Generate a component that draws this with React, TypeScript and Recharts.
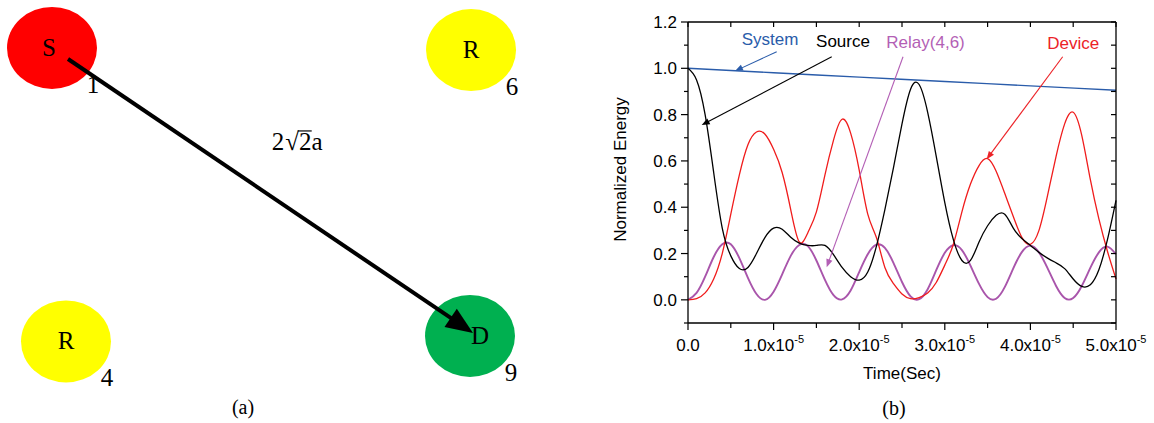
import { LineChart, Line, XAxis, YAxis, ReferenceLine, ReferenceDot, ScatterChart, Scatter } from "recharts";

const sans = "'Liberation Sans', Arial, sans-serif";
const serif = "'Liberation Serif', 'Times New Roman', serif";

// ---- panel (a): node layout, in units of a ----
const nodeX = [0, 2.005, 0.067, 2];
const nodeY = [2, 1.986, -0.038, 0];
const nodeLetter = ["S", "R", "R", "D"];
const nodeNumber = ["1", "6", "4", "9"];
const nodeColor = ["#ff0000", "#ffff00", "#ffff00", "#00b050"];
// S -> D link
const linkX = [0.0766, 2.0144];
const linkY = [1.9236, 0.0208];

// ---- panel (b): time in units of 1e-5 s ----
const time = [
  0, 0.1, 0.2, 0.3, 0.4, 0.5, 0.6, 0.7, 0.8, 0.9,
  1, 1.1, 1.2, 1.3, 1.4, 1.5, 1.6, 1.7, 1.8, 1.9,
  2, 2.1, 2.2, 2.3, 2.4, 2.5, 2.6, 2.7, 2.8, 2.9,
  3, 3.1, 3.2, 3.3, 3.4, 3.5, 3.6, 3.7, 3.8, 3.9,
  4, 4.1, 4.2, 4.3, 4.4, 4.5, 4.6, 4.7, 4.8, 4.9,
  5,
];
const source = [
  1.0, 0.95, 0.8, 0.55, 0.31, 0.19, 0.135, 0.14, 0.2, 0.27,
  0.31, 0.305, 0.27, 0.245, 0.235, 0.235, 0.235, 0.195, 0.14, 0.1,
  0.085, 0.12, 0.23, 0.39, 0.57, 0.76, 0.91, 0.93, 0.81, 0.62,
  0.42, 0.26, 0.17, 0.17, 0.25, 0.32, 0.365, 0.37, 0.31, 0.265,
  0.235, 0.205, 0.18, 0.16, 0.135, 0.09, 0.058, 0.065, 0.13, 0.26,
  0.43,
];
const relay = [
  0, 0.03, 0.1, 0.185, 0.24, 0.24, 0.18, 0.095, 0.025, 0.0,
  0.035, 0.11, 0.19, 0.237, 0.232, 0.17, 0.086, 0.02, 0.002, 0.04,
  0.12, 0.197, 0.238, 0.224, 0.16, 0.077, 0.015, 0.003, 0.046, 0.128,
  0.203, 0.236, 0.215, 0.148, 0.069, 0.012, 0.005, 0.055, 0.136, 0.206,
  0.234, 0.205, 0.137, 0.06, 0.008, 0.008, 0.06, 0.138, 0.205, 0.23,
  0.197,
];
const device = [
  0, 0.005, 0.03, 0.09, 0.2, 0.37, 0.54, 0.67, 0.725, 0.715,
  0.65, 0.55, 0.39, 0.25, 0.29, 0.38, 0.54, 0.69, 0.78, 0.72,
  0.56, 0.37, 0.27, 0.14, 0.07, 0.025, 0.005, 0.01, 0.03, 0.075,
  0.15, 0.24, 0.38, 0.5, 0.58, 0.61, 0.555, 0.46, 0.36, 0.27,
  0.24, 0.3, 0.45, 0.62, 0.76, 0.81, 0.71, 0.52, 0.35, 0.21,
  0.09,
];
const systemTime = [0, 1, 2, 3, 4, 5];
const systemEnergy = [1.0, 0.981, 0.962, 0.943, 0.924, 0.905];

const xTicks = [0, 0.5, 1, 1.5, 2, 2.5, 3, 3.5, 4, 4.5, 5];
const yTicks = [-0.1, 0, 0.1, 0.2, 0.3, 0.4, 0.5, 0.6, 0.7, 0.8, 0.9, 1, 1.1, 1.2];
const X_MIN = 0;
const X_MAX = 5;
const Y_MIN = -0.1;
const Y_MAX = 1.2;

const CHART_W = 594;
const CHART_H = 423;
const MARGIN = { top: 22, right: 38, bottom: 70, left: 68 };
const X_AXIS_H = 30;
const PLOT_H = CHART_H - MARGIN.top - MARGIN.bottom - X_AXIS_H;

const rows = time.map((t, i) => {
  const k = systemTime.indexOf(t);
  return {
    t,
    source: source[i],
    relay: relay[i],
    device: device[i],
    system: k >= 0 ? systemEnergy[k] : null,
  };
});

// annotation labels with their pointer arrows (data coords)
const notes = [
  { text: "System", color: "#2a5caa", tx: 0.958, tv: 1.1, from: [1.036, 1.072], to: [0.549, 0.988] },
  { text: "Source", color: "#000000", tx: 1.811, tv: 1.092, from: [1.679, 1.05], to: [0.16, 0.755] },
  { text: "Relay(4,6)", color: "#b35fb5", tx: 2.775, tv: 1.088, from: [2.512, 1.05], to: [1.62, 0.141] },
  { text: "Device", color: "#ec2227", tx: 4.5, tv: 1.083, from: [4.377, 1.05], to: [3.489, 0.607] },
];

function drawArrow(x1: number, y1: number, x2: number, y2: number, color: string, width: number, head: number, half: number) {
  const dx = x2 - x1;
  const dy = y2 - y1;
  const len = Math.hypot(dx, dy) || 1;
  const ux = dx / len;
  const uy = dy / len;
  const bx = x2 - ux * head;
  const by = y2 - uy * head;
  const pts = `${x2},${y2} ${bx - uy * half},${by + ux * half} ${bx + uy * half},${by - ux * half}`;
  return (
    <g>
      <line x1={x1} y1={y1} x2={bx + ux} y2={by + uy} stroke={color} strokeWidth={width} />
      <polygon points={pts} fill={color} />
    </g>
  );
}

const YTick = ({ x, y, payload }: any) => {
  const v = payload.value;
  const major = Math.round(v * 10) % 2 === 0;
  return (
    <g>
      <line x1={x} y1={y} x2={x - (major ? 7 : 4)} y2={y} stroke="#000" strokeWidth={1.2} />
      {major && v >= 0 && (
        <text x={x - 11} y={y + 6} textAnchor="end" fontSize={17} fontFamily={sans} fill="#000">
          {v.toFixed(1)}
        </text>
      )}
    </g>
  );
};

const XTick = ({ x, y, payload }: any) => {
  const v = payload.value;
  const major = Number.isInteger(v);
  return (
    <g>
      <line x1={x} y1={y} x2={x} y2={y + (major ? 7 : 5)} stroke="#000" strokeWidth={1.2} />
      {major && (
        <text x={x} y={y + 28} textAnchor="middle" fontSize={17} fontFamily={sans} fill="#000">
          {v === 0 ? (
            "0.0"
          ) : (
            <>
              <tspan>{v.toFixed(1) + "x10"}</tspan>
              <tspan dy={-8} fontSize={11}>-5</tspan>
            </>
          )}
        </text>
      )}
    </g>
  );
};

// viewBox of the left axis: its right edge is the plot's left edge
const yCaption = ({ viewBox }: any) => {
  const cx = viewBox.x + viewBox.width - 68;
  const cy = viewBox.y + viewBox.height / 2 - 3;
  return (
    <text x={cx} y={cy} transform={`rotate(-90 ${cx} ${cy})`} textAnchor="middle" dominantBaseline="central" fontSize={17} fontFamily={sans} fill="#000">
      Normalized Energy
    </text>
  );
};

// bottom-axis caption; also closes the box (top and right edges with inward ticks)
const xCaption = ({ viewBox }: any) => {
  const left = viewBox.x;
  const w = viewBox.width;
  const bottom = viewBox.y;
  const top = bottom - PLOT_H;
  const right = left + w;
  const px = (t: number) => left + ((t - X_MIN) / (X_MAX - X_MIN)) * w;
  const py = (v: number) => top + ((Y_MAX - v) / (Y_MAX - Y_MIN)) * PLOT_H;
  const cx = left + w / 2;
  return (
    <g>
      <line x1={left} y1={top} x2={right} y2={top} stroke="#000" strokeWidth={1.3} />
      <line x1={right} y1={top} x2={right} y2={bottom} stroke="#000" strokeWidth={1.3} />
      {xTicks.map((t) => (
        <line key={"t" + t} x1={px(t)} y1={top} x2={px(t)} y2={top + 5} stroke="#000" strokeWidth={1.2} />
      ))}
      {yTicks.map((v) => (
        <line key={"r" + v} x1={right} y1={py(v)} x2={right - 5} y2={py(v)} stroke="#000" strokeWidth={1.2} />
      ))}
      <text x={cx} y={bottom + 56} textAnchor="middle" fontSize={17} fontFamily={sans} fill="#000">
        Time(Sec)
      </text>
      <text x={cx - 8} y={bottom + 92} textAnchor="middle" fontSize={20} fontFamily={serif} fill="#000">
        (b)
      </text>
    </g>
  );
};

const nodes = nodeX.map((x, i) => ({
  x,
  y: nodeY[i],
  letter: nodeLetter[i],
  num: nodeNumber[i],
  color: nodeColor[i],
}));
const link = linkX.map((x, i) => ({ x, y: linkY[i] }));

const letterShift: Record<string, number> = { S: -3, D: 10 };

const NodeShape = (p: any) => {
  const { cx, cy, payload } = p;
  return (
    <g>
      <ellipse cx={cx} cy={cy} rx={45} ry={41} fill={payload.color} />
      <text x={cx + (letterShift[payload.letter] || 0)} y={cy + 8} textAnchor="middle" fontSize={25} fontFamily={serif} fill="#000">
        {payload.letter}
      </text>
      <text x={cx + 41} y={cy + 45} textAnchor="middle" fontSize={25} fontFamily={serif} fill="#000">
        {payload.num}
      </text>
    </g>
  );
};

const LinkArrow = (p: any) => {
  const pts = p.points || [];
  if (pts.length < 2) return <g />;
  const a = pts[0];
  const b = pts[pts.length - 1];
  return drawArrow(a.x, a.y, b.x, b.y, "#000", 4, 27, 11);
};

function Layout() {
  return (
    <ScatterChart width={560} height={423} margin={{ top: 0, right: 0, bottom: 0, left: 0 }}>
      <XAxis type="number" dataKey="x" domain={[-0.2488, 2.4306]} hide allowDataOverflow />
      <YAxis type="number" dataKey="y" domain={[-0.6042, 2.3333]} hide allowDataOverflow />
      <Scatter data={nodes} shape={NodeShape} isAnimationActive={false} />
      <Scatter data={link} line={LinkArrow} shape={() => <g />} isAnimationActive={false} />
      <ReferenceDot
        x={1.19}
        y={1.292}
        r={0}
        shape={(p: any) => {
          const x0 = p.cx - 29;
          return (
            <g>
              <text x={x0} y={p.cy} fontSize={25} fontFamily={serif} fill="#000">
                <tspan>2</tspan>
                <tspan dx={1}>√</tspan>
                <tspan>2a</tspan>
              </text>
              <line x1={x0 + 26} y1={p.cy - 19} x2={x0 + 40} y2={p.cy - 19} stroke="#000" strokeWidth={1.2} />
            </g>
          );
        }}
      />
      <ReferenceDot
        x={0.914}
        y={-0.542}
        r={0}
        shape={(p: any) => (
          <text x={p.cx} y={p.cy} textAnchor="middle" fontSize={20} fontFamily={serif} fill="#000">
            (a)
          </text>
        )}
      />
    </ScatterChart>
  );
}

const frameStroke = { stroke: "#000", strokeWidth: 1.3 };

function EnergyChart() {
  return (
    <LineChart width={CHART_W} height={CHART_H} data={rows} margin={MARGIN}>
      <XAxis
        dataKey="t"
        type="number"
        domain={[X_MIN, X_MAX]}
        ticks={xTicks}
        interval={0}
        height={X_AXIS_H}
        tickSize={0}
        tickMargin={0}
        tickLine={false}
        tick={<XTick />}
        axisLine={frameStroke}
        label={{ content: xCaption }}
      />
      <YAxis
        type="number"
        domain={[Y_MIN, Y_MAX]}
        ticks={yTicks}
        interval={0}
        width={60}
        tickSize={0}
        tickMargin={0}
        tickLine={false}
        tick={<YTick />}
        axisLine={frameStroke}
        label={{ content: yCaption }}
      />
      <Line type="natural" dataKey="system" stroke="#2a5caa" strokeWidth={1.4} dot={false} activeDot={false} connectNulls isAnimationActive={false} />
      <Line type="natural" dataKey="relay" stroke="#a955ab" strokeWidth={1.9} dot={false} activeDot={false} isAnimationActive={false} />
      <Line type="natural" dataKey="device" stroke="#f01c1c" strokeWidth={1.3} dot={false} activeDot={false} isAnimationActive={false} />
      <Line type="natural" dataKey="source" stroke="#000" strokeWidth={1.3} dot={false} activeDot={false} isAnimationActive={false} />
      {notes.map((n) => (
        <ReferenceLine
          key={n.text + "-arrow"}
          segment={[{ x: n.from[0], y: n.from[1] }, { x: n.to[0], y: n.to[1] }]}
          shape={(p: any) => drawArrow(p.x1, p.y1, p.x2, p.y2, n.color, 1.1, 8, 3.2)}
        />
      ))}
      {notes.map((n) => (
        <ReferenceDot
          key={n.text}
          x={n.tx}
          y={n.tv}
          r={0}
          shape={(p: any) => (
            <text x={p.cx} y={p.cy} textAnchor="middle" fontSize={17} fontFamily={sans} fill={n.color}>
              {n.text}
            </text>
          )}
        />
      ))}
    </LineChart>
  );
}

export default function App() {
  return (
    <div style={{ position: "absolute", left: 0, top: 0, width: 1154, height: 423, background: "#fff" }}>
      <div style={{ position: "absolute", left: 0, top: 0 }}>
        <Layout />
      </div>
      <div style={{ position: "absolute", left: 560, top: 0 }}>
        <EnergyChart />
      </div>
    </div>
  );
}
